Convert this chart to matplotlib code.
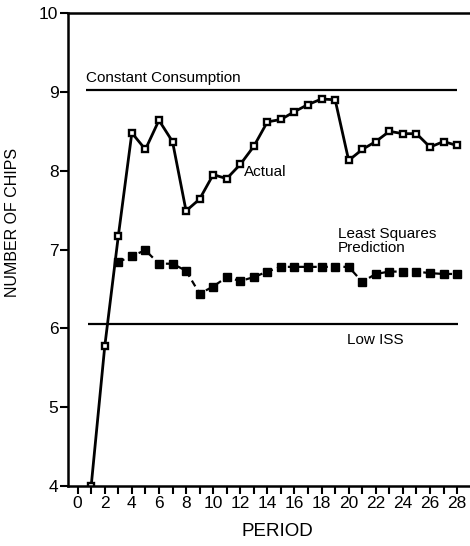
import matplotlib.pyplot as plt

plt.rcParams['font.family'] = ['Liberation Sans', 'DejaVu Sans']

period = list(range(1, 29))
actual = [4.0, 5.77, 7.17, 8.48, 8.27, 8.64, 8.37, 7.49, 7.64, 7.95,
          7.9, 8.08, 8.31, 8.62, 8.65, 8.75, 8.84, 8.91, 8.9, 8.13,
          8.27, 8.37, 8.5, 8.47, 8.47, 8.3, 8.37, 8.32]

ls_period = list(range(3, 29))
least_squares = [6.84, 6.92, 6.99, 6.82, 6.82, 6.73, 6.44, 6.53, 6.65, 6.6,
                 6.65, 6.72, 6.78, 6.78, 6.78, 6.78, 6.78, 6.78, 6.59, 6.69,
                 6.72, 6.72, 6.72, 6.7, 6.69, 6.69]

constant_consumption = 9.03
low_iss = 6.06

fig = plt.figure(figsize=(4.7, 5.46), dpi=100)
ax = fig.add_axes([0.145, 0.11, 0.855, 0.866])

ax.hlines(constant_consumption, 0.6, 28.0, color='black', lw=1.6)
ax.hlines(low_iss, 0.8, 28.1, color='black', lw=1.6)

ax.plot(period, actual, color='black', lw=2, marker='s', ms=5,
        mfc='white', mec='black', mew=1.7)
ax.plot(ls_period, least_squares, color='black', lw=1.6, ls=(0, (3, 2)),
        marker='s', ms=6, mfc='black', mec='black')

ax.text(0.6, 9.18, 'Constant Consumption', fontsize=11, va='center')
ax.text(12.3, 7.98, 'Actual', fontsize=11, va='center')
ax.text(19.2, 7.11, 'Least Squares\nPrediction', fontsize=11, va='center',
        linespacing=0.95)
ax.text(19.9, 5.85, 'Low ISS', fontsize=11, va='center')

ax.set_xlim(-0.7, 28.95)
ax.set_ylim(4, 10)
ax.set_xticks(range(0, 29, 2))
ax.set_xticks(range(1, 29, 2), minor=True)
ax.set_yticks(range(4, 11))
ax.tick_params(axis='both', which='both', direction='out', length=6,
               width=1.5, labelsize=12.5, pad=1)
ax.spines['right'].set_visible(False)
for s in ['left', 'bottom', 'top']:
    ax.spines[s].set_linewidth(1.8)

ax.set_xlabel('PERIOD', fontsize=13.5)
ax.xaxis.set_label_coords(0.52, -0.078)
ax.set_ylabel('NUMBER OF CHIPS', fontsize=11.5)
ax.yaxis.set_label_coords(-0.12, 0.557)

fig.savefig('out.png', dpi=100)
